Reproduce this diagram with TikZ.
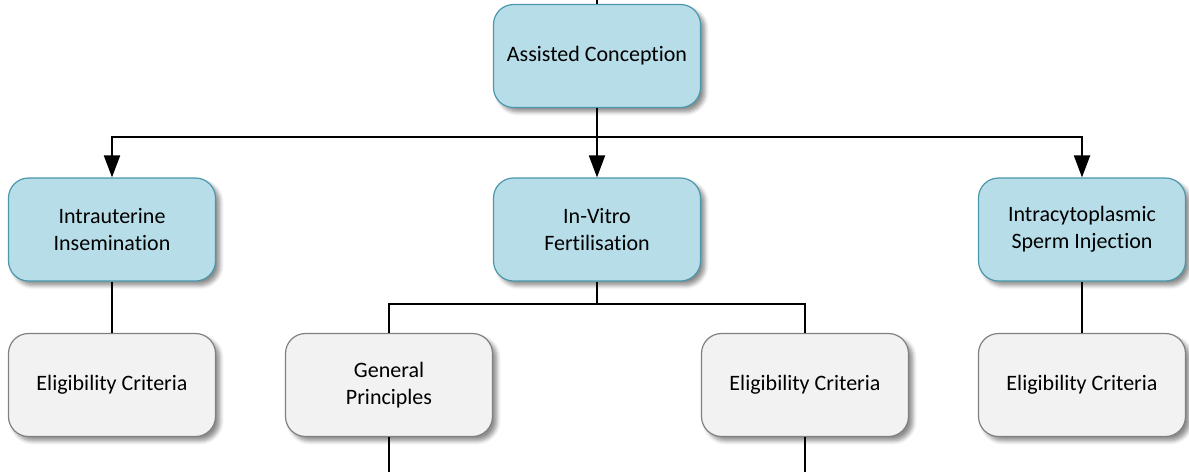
\documentclass[tikz,border=0pt]{standalone}
\usepackage{fontspec}
\setmainfont{Carlito}[Ligatures={NoCommon,NoRare}]
\usetikzlibrary{arrows.meta,shadows.blur}
\definecolor{bluefill}{HTML}{B7DDE8}
\definecolor{blueline}{HTML}{4B97AB}
\definecolor{grayfill}{HTML}{F2F2F2}
\definecolor{grayline}{HTML}{808080}
\tikzset{
  box/.style={rectangle, rounded corners=10pt, minimum width=103.5pt, minimum height=51.5pt,
    align=center, font=\fontsize{11}{13.5}\selectfont, line width=0.6pt, inner sep=2pt,
    blur shadow={shadow xshift=2.2pt, shadow yshift=-2.2pt, shadow blur steps=6, shadow opacity=45, shadow blur radius=2pt}},
  bluebox/.style={box, fill=bluefill, draw=blueline},
  graybox/.style={box, fill=grayfill, draw=grayline},
  conn/.style={draw=black, line width=1pt},
  arr/.style={conn, -{Triangle[length=11pt,width=8pt]}}
}
\begin{document}
\begin{tikzpicture}[x=0.5pt,y=-0.5pt]
\useasboundingbox (0,0) rectangle (1189,472);
\node[bluebox] (AC) at (597,56) {Assisted Conception};
\node[bluebox] (IUI) at (112,229.5) {Intrauterine\\Insemination};
\node[bluebox] (IVF) at (597,229.5) {In-Vitro\\Fertilisation};
\node[bluebox] (ICSI) at (1082,229.5) {Intracytoplasmic\\Sperm Injection};
\node[graybox] (E1) at (112,385) {Eligibility Criteria};
\node[graybox] (GP) at (389,385) {General\\Principles};
\node[graybox] (E2) at (805,385) {Eligibility Criteria};
\node[graybox] (E3) at (1082,385) {Eligibility Criteria};
\coordinate (top) at (597,0);
\coordinate (hub) at (597,137);
\coordinate (hub2) at (597,304);
\coordinate (gpend) at (389,472);
\coordinate (e2end) at (805,472);
\draw[conn] (top) -- (AC.north);
\draw[conn] (AC.south) -- (hub);
\draw[arr] (hub) -| (IUI.north);
\draw[arr] (hub) -- (IVF.north);
\draw[arr] (hub) -| (ICSI.north);
\draw[conn] (IUI.south) -- (E1.north);
\draw[conn] (ICSI.south) -- (E3.north);
\draw[conn] (IVF.south) -- (hub2);
\draw[conn] (hub2) -| (GP.north);
\draw[conn] (hub2) -| (E2.north);
\draw[conn] (GP.south) -- (gpend);
\draw[conn] (E2.south) -- (e2end);
\end{tikzpicture}
\end{document}
